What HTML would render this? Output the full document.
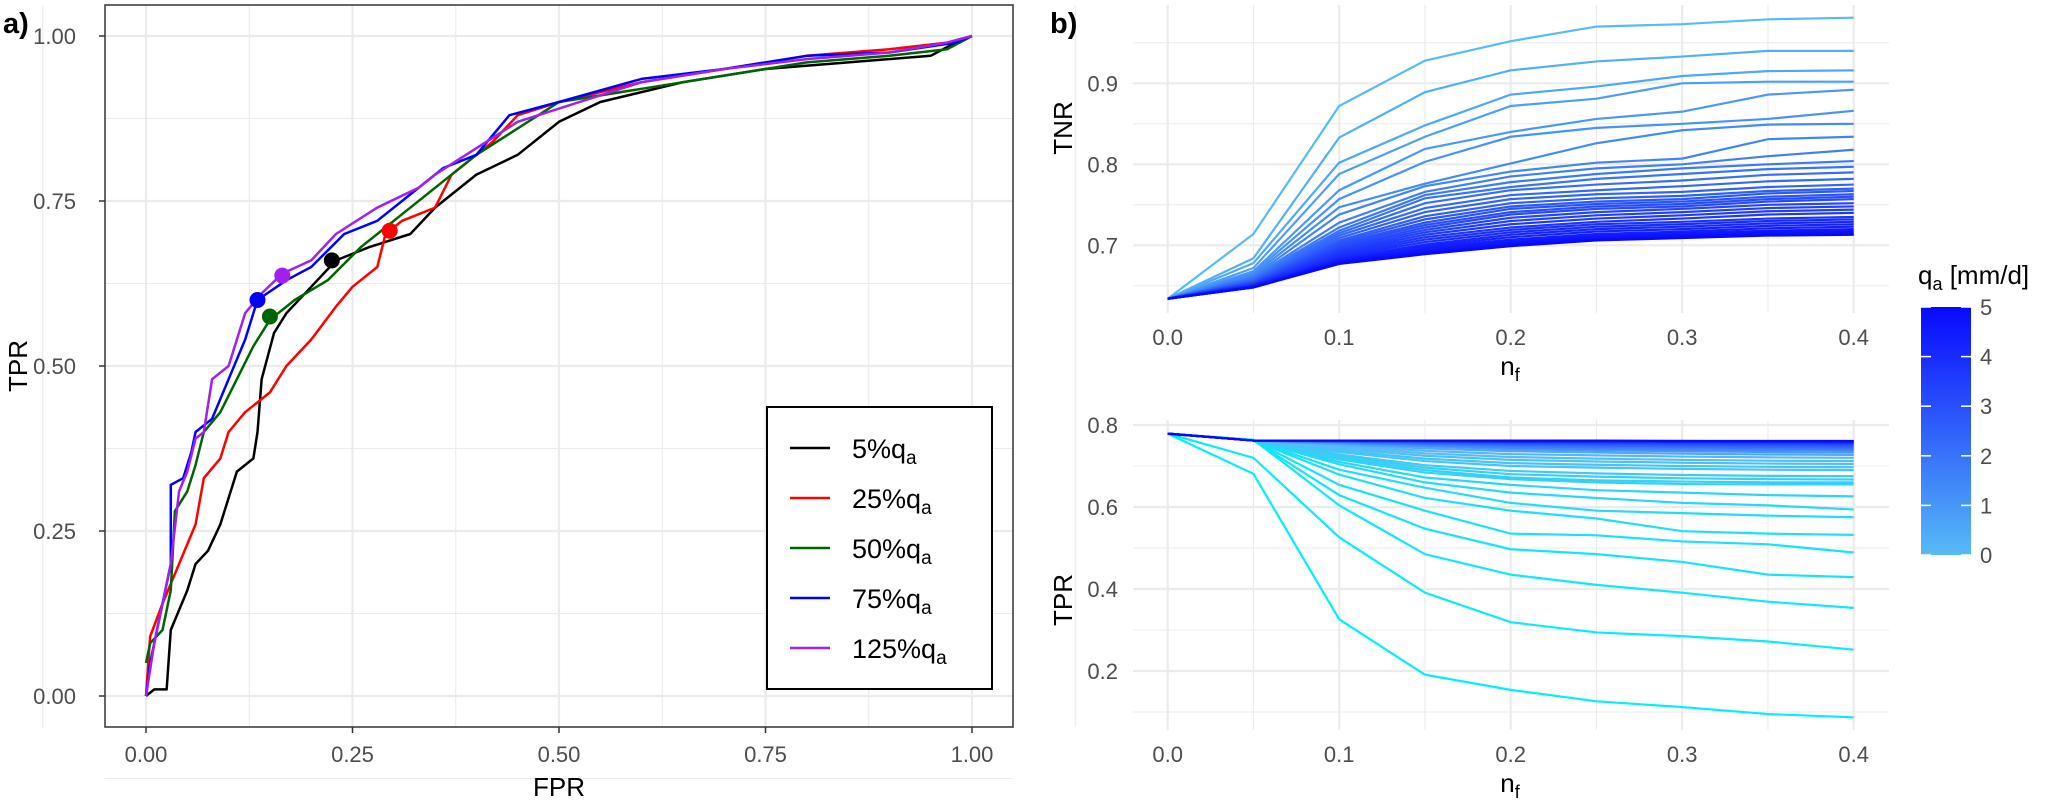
<!DOCTYPE html>
<html><head><meta charset="utf-8"><style>
body{margin:0;background:#fff;}
svg{display:block;font-family:"Liberation Sans",Arial,sans-serif;}
</style></head><body>
<svg id="chart" width="2056" height="801" viewBox="0 0 2056 801" xmlns="http://www.w3.org/2000/svg">
<g id="pa"></g>
<g id="pb1"></g>
<g id="pb2"></g>
<g id="lg"></g>
</svg>
<script>
// ---- Panel a data (ROC) ----
const rocNames = ["5%","25%","50%","75%","125%"];
const rocColors = ["#000000","#ff0000","#006400","#0000ff","#a020f0"];
const rocBlackFPR = [0,0.01,0.025,0.03,0.04,0.05,0.06,0.075,0.09,0.1,0.11,0.13,0.135,0.14,0.155,0.17,0.2,0.23,0.27,0.32,0.35,0.4,0.45,0.5,0.55,0.65,0.75,0.85,0.95,0.98,1];
const rocBlackTPR = [0,0.01,0.01,0.1,0.13,0.16,0.2,0.22,0.26,0.3,0.34,0.36,0.4,0.48,0.55,0.58,0.62,0.66,0.68,0.7,0.74,0.79,0.82,0.87,0.9,0.93,0.95,0.96,0.97,0.99,1];
const rocRedFPR = [0,0.005,0.02,0.04,0.06,0.07,0.09,0.1,0.12,0.15,0.17,0.2,0.23,0.25,0.28,0.29,0.31,0.35,0.37,0.42,0.45,0.5,0.6,0.7,0.8,0.9,0.97,1];
const rocRedTPR = [0,0.09,0.14,0.2,0.26,0.33,0.36,0.4,0.43,0.46,0.5,0.54,0.59,0.62,0.65,0.7,0.72,0.74,0.79,0.84,0.88,0.9,0.93,0.95,0.97,0.98,0.99,1];
const rocGreenFPR = [0,0.005,0.02,0.03,0.035,0.05,0.06,0.07,0.09,0.11,0.13,0.15,0.18,0.22,0.26,0.3,0.35,0.4,0.45,0.5,0.6,0.7,0.8,0.9,0.97,1];
const rocGreenTPR = [0.05,0.08,0.1,0.16,0.28,0.31,0.35,0.4,0.43,0.48,0.53,0.57,0.6,0.63,0.68,0.72,0.77,0.82,0.86,0.9,0.92,0.94,0.96,0.97,0.98,1];
const rocBlueFPR = [0,0.005,0.02,0.03,0.03,0.045,0.055,0.06,0.08,0.1,0.12,0.135,0.17,0.2,0.24,0.28,0.32,0.36,0.4,0.44,0.5,0.6,0.7,0.8,0.9,0.98,1];
const rocBlueTPR = [0,0.05,0.14,0.2,0.32,0.33,0.37,0.4,0.42,0.48,0.54,0.6,0.63,0.65,0.7,0.72,0.76,0.8,0.82,0.88,0.9,0.935,0.95,0.97,0.975,0.99,1];
const rocPurpleFPR = [0,0.01,0.02,0.03,0.04,0.05,0.06,0.07,0.08,0.1,0.11,0.12,0.14,0.165,0.2,0.23,0.28,0.33,0.35,0.4,0.45,0.5,0.6,0.7,0.8,0.9,0.97,1];
const rocPurpleTPR = [0,0.08,0.14,0.2,0.31,0.34,0.39,0.4,0.48,0.5,0.54,0.58,0.61,0.64,0.66,0.7,0.74,0.77,0.79,0.83,0.87,0.89,0.93,0.95,0.965,0.975,0.99,1];
const rocDotFPR = [0.225,0.295,0.15,0.135,0.165];
const rocDotTPR = [0.66,0.705,0.575,0.6,0.637];
const rocTicks = ["0.00","0.25","0.50","0.75","1.00"];

// ---- Panel b data ----
const nf = [0,0.05,0.1,0.15,0.2,0.25,0.3,0.35,0.4];
const nfTicks = ["0.0","0.1","0.2","0.3","0.4"];
const tnrTicks = ["0.7","0.8","0.9"];
const tprTicks = ["0.2","0.4","0.6","0.8"];
const tnrLines = [
 [0.634,0.714,0.872,0.928,0.952,0.970,0.973,0.979,0.981],
 [0.634,0.684,0.833,0.889,0.916,0.927,0.933,0.940,0.940],
 [0.634,0.678,0.802,0.848,0.886,0.896,0.909,0.915,0.916],
 [0.634,0.672,0.788,0.834,0.872,0.881,0.900,0.902,0.902],
 [0.634,0.668,0.768,0.819,0.840,0.856,0.865,0.886,0.892],
 [0.634,0.666,0.757,0.803,0.834,0.845,0.850,0.856,0.866],
 [0.634,0.664,0.747,0.776,0.801,0.826,0.842,0.849,0.850],
 [0.634,0.662,0.738,0.773,0.791,0.802,0.807,0.831,0.834],
 [0.634,0.661,0.728,0.766,0.785,0.795,0.800,0.810,0.818],
 [0.634,0.660,0.722,0.762,0.778,0.788,0.795,0.800,0.804],
 [0.634,0.659,0.718,0.758,0.772,0.782,0.788,0.794,0.797],
 [0.634,0.658,0.715,0.752,0.768,0.775,0.780,0.787,0.790],
 [0.634,0.657,0.712,0.746,0.762,0.768,0.773,0.779,0.782],
 [0.634,0.656,0.709,0.741,0.757,0.763,0.766,0.772,0.775],
 [0.634,0.655,0.706,0.736,0.752,0.758,0.761,0.767,0.770],
 [0.634,0.655,0.704,0.732,0.748,0.754,0.757,0.764,0.767],
 [0.634,0.654,0.702,0.728,0.745,0.751,0.754,0.760,0.763],
 [0.634,0.654,0.700,0.725,0.741,0.748,0.751,0.757,0.760],
 [0.634,0.653,0.698,0.722,0.738,0.745,0.748,0.754,0.757],
 [0.634,0.653,0.696,0.719,0.734,0.741,0.745,0.750,0.752],
 [0.634,0.652,0.694,0.716,0.730,0.737,0.741,0.746,0.748],
 [0.634,0.652,0.692,0.713,0.726,0.733,0.737,0.742,0.744],
 [0.634,0.651,0.690,0.710,0.722,0.729,0.733,0.738,0.740],
 [0.634,0.651,0.688,0.707,0.719,0.726,0.729,0.733,0.735],
 [0.634,0.650,0.686,0.704,0.716,0.723,0.726,0.730,0.732],
 [0.634,0.650,0.684,0.701,0.713,0.720,0.723,0.727,0.729],
 [0.634,0.650,0.683,0.699,0.710,0.717,0.720,0.724,0.726],
 [0.634,0.649,0.682,0.697,0.707,0.714,0.717,0.721,0.723],
 [0.634,0.649,0.681,0.695,0.705,0.712,0.715,0.718,0.720],
 [0.634,0.649,0.680,0.693,0.703,0.710,0.713,0.716,0.718],
 [0.634,0.648,0.679,0.691,0.701,0.708,0.711,0.714,0.716],
 [0.634,0.648,0.678,0.690,0.700,0.707,0.710,0.713,0.714],
 [0.634,0.648,0.677,0.689,0.699,0.706,0.709,0.712,0.713]
];
const tprLines = [
 [0.779,0.681,0.326,0.191,0.154,0.126,0.112,0.095,0.087],
 [0.779,0.720,0.526,0.391,0.319,0.294,0.285,0.272,0.252],
 [0.779,0.764,0.604,0.485,0.435,0.410,0.391,0.369,0.354],
 [0.779,0.762,0.629,0.547,0.497,0.485,0.466,0.435,0.429],
 [0.779,0.762,0.654,0.591,0.535,0.531,0.516,0.509,0.489],
 [0.779,0.762,0.679,0.622,0.591,0.572,0.541,0.535,0.532],
 [0.779,0.762,0.691,0.647,0.610,0.591,0.585,0.579,0.575],
 [0.779,0.762,0.704,0.660,0.635,0.622,0.610,0.604,0.594],
 [0.779,0.762,0.710,0.672,0.654,0.641,0.635,0.629,0.626],
 [0.779,0.762,0.716,0.684,0.668,0.660,0.656,0.655,0.655],
 [0.779,0.762,0.720,0.690,0.672,0.665,0.662,0.660,0.660],
 [0.779,0.762,0.724,0.696,0.680,0.674,0.670,0.668,0.667],
 [0.779,0.762,0.728,0.702,0.688,0.682,0.678,0.676,0.675],
 [0.779,0.762,0.734,0.712,0.700,0.696,0.693,0.691,0.690],
 [0.779,0.762,0.738,0.718,0.707,0.703,0.700,0.698,0.697],
 [0.779,0.762,0.742,0.725,0.715,0.711,0.708,0.706,0.705],
 [0.779,0.762,0.746,0.731,0.722,0.718,0.715,0.713,0.712],
 [0.779,0.762,0.750,0.737,0.729,0.726,0.723,0.721,0.720],
 [0.779,0.762,0.753,0.743,0.736,0.733,0.730,0.728,0.727],
 [0.779,0.762,0.756,0.748,0.741,0.738,0.736,0.734,0.733],
 [0.779,0.762,0.758,0.751,0.745,0.742,0.740,0.739,0.738],
 [0.779,0.762,0.759,0.754,0.749,0.746,0.745,0.743,0.742],
 [0.779,0.762,0.760,0.756,0.752,0.750,0.748,0.747,0.746],
 [0.779,0.762,0.761,0.758,0.755,0.753,0.752,0.751,0.750],
 [0.779,0.762,0.761,0.760,0.757,0.756,0.755,0.754,0.753],
 [0.779,0.762,0.762,0.761,0.759,0.758,0.757,0.757,0.756],
 [0.779,0.762,0.762,0.761,0.760,0.760,0.759,0.759,0.758],
 [0.779,0.762,0.762,0.762,0.761,0.761,0.761,0.760,0.760],
 [0.779,0.762,0.762,0.762,0.762,0.762,0.761,0.761,0.761]
];
const cbTicks = ["0","1","2","3","4","5"];

const NS="http://www.w3.org/2000/svg";
function mk(parent,tag,attrs,text){const e=document.createElementNS(NS,tag);for(const k in attrs)e.setAttribute(k,attrs[k]);if(text!==undefined)e.textContent=text;parent.appendChild(e);return e;}
function lerp(a,b,t){return a.map((v,i)=>Math.round(v+(b[i]-v)*t));}
function rgb(c){return "rgb("+c.join(",")+")";}

// ---- Panel a ----
const pa=document.getElementById('pa');
const ax=v=>146+v*826, ay=v=>696-v*660;
for(let k=-1;k<=9;k++){
  const v=k*0.125;
  const major=k%2==0;
  const g=mk(pa,'line',{x1:ax(v),x2:ax(v),y1:5,y2:727,stroke:'#ebebeb','stroke-width':major?2.2:1.1});
  
  const h=mk(pa,'line',{x1:105,x2:1013,y1:ay(v),y2:ay(v),stroke:'#ebebeb','stroke-width':major?2.2:1.1});
  
}
const rocF=[rocBlackFPR,rocRedFPR,rocGreenFPR,rocBlueFPR,rocPurpleFPR];
const rocT=[rocBlackTPR,rocRedTPR,rocGreenTPR,rocBlueTPR,rocPurpleTPR];
rocF.forEach((f,i)=>{
  const pts=f.map((v,j)=>ax(v)+","+ay(rocT[i][j])).join(" ");
  const p=mk(pa,'polyline',{points:pts,fill:'none',stroke:rocColors[i],'stroke-width':2.5,'stroke-linejoin':'round'});
  
  
});
rocDotFPR.forEach((f,i)=>{
  const c=mk(pa,'circle',{cx:ax(f),cy:ay(rocDotTPR[i]),r:8,fill:rocColors[i]});
  
  
});
const fr=mk(pa,'rect',{x:105,y:5,width:908,height:722,fill:'none',stroke:'#333','stroke-width':1.5});

rocTicks.forEach((t,i)=>{
  const v=i*0.25;
  const a=mk(pa,'text',{x:ax(v),y:762,'font-size':22,fill:'#4d4d4d','text-anchor':'middle'},t);
  
  const b=mk(pa,'text',{x:76,y:ay(v)+8,'font-size':22,fill:'#4d4d4d','text-anchor':'end'},t);
  
  mk(pa,'line',{x1:ax(v),x2:ax(v),y1:727,y2:733,stroke:'#333','stroke-width':1.5});
  mk(pa,'line',{x1:99,x2:105,y1:ay(v),y2:ay(v),stroke:'#333','stroke-width':1.5});
});
let t1=mk(pa,'text',{x:559,y:796,'font-size':26,'text-anchor':'middle'},'FPR');

let t2=mk(pa,'text',{x:0,y:0,'font-size':26,'text-anchor':'middle',transform:'translate(27,366) rotate(-90)'},'TPR');

let t3=mk(pa,'text',{x:3,y:33,'font-size':29,'font-weight':'bold'},'a)');

const lb=mk(pa,'rect',{x:767,y:407,width:225,height:282,fill:'#fff',stroke:'#000','stroke-width':2});

rocNames.forEach((n,i)=>{
  const y=448+i*50;
  const g=mk(pa,'g',{});
  
  mk(g,'line',{x1:790,x2:830,y1:y,y2:y,stroke:rocColors[i],'stroke-width':2.5});
  const tx=mk(g,'text',{x:852,y:y+10,'font-size':27},n+'q');
  mk(tx,'tspan',{'font-size':19,dy:6},'a');
});

// ---- Panel b ----
const bx=v=>1167.7+v*1715;
function panelB(gid,yfun,gridVals,majorVals,top,bottom,ticks,tickVals,lines,colfun,title,titleY){
  const g=document.getElementById(gid);
  gridVals.forEach(v=>{
    const major=majorVals.some(m=>Math.abs(m-v)<1e-6);
    const l=mk(g,'line',{x1:1133,x2:1889,y1:yfun(v),y2:yfun(v),stroke:'#ebebeb','stroke-width':major?2.2:1.1});
    
  });
  for(let k=0;k<=8;k++){
    const v=k*0.05;
    const l=mk(g,'line',{x1:bx(v),x2:bx(v),y1:top,y2:bottom,stroke:'#ebebeb','stroke-width':k%2==0?2.2:1.1});
    
  }
  lines.forEach((vals,i)=>{
    const pts=vals.map((v,j)=>bx(nf[j])+","+yfun(v)).join(" ");
    const p=mk(g,'polyline',{points:pts,fill:'none',stroke:colfun(i/(lines.length-1)),'stroke-width':2.2});
    
    
  });
  nfTicks.forEach((t,i)=>{
    const a=mk(g,'text',{x:bx(i*0.1),y:bottom+32,'font-size':22,fill:'#4d4d4d','text-anchor':'middle'},t);
    
  });
  ticks.forEach((t,i)=>{
    const a=mk(g,'text',{x:1118,y:yfun(tickVals[i])+8,'font-size':22,fill:'#4d4d4d','text-anchor':'end'},t);
    
  });
  const xt=mk(g,'text',{x:1510,y:bottom+62,'font-size':26,'text-anchor':'middle'},'n');
  mk(xt,'tspan',{'font-size':18,dy:6},'f');
  
  const yt=mk(g,'text',{x:0,y:0,'font-size':26,'text-anchor':'middle',transform:'translate(1072,'+titleY+') rotate(-90)'},title);
  
}
const y1=v=>245.3-(v-0.7)*810;
const y2=v=>425+(0.8-v)*410;
const light=[88,186,246], blue=[8,8,255], cyan=[0,240,250];
panelB('pb1',y1,[0.65,0.7,0.75,0.8,0.85,0.9,0.95],[0.7,0.8,0.9],5,313,tnrTicks,[0.7,0.8,0.9],tnrLines,t=>rgb(lerp(light,blue,Math.pow(t,0.8))),'TNR',128);
panelB('pb2',y2,[0.1,0.2,0.3,0.4,0.5,0.6,0.7,0.8],[0.2,0.4,0.6,0.8],420,730,tprTicks,[0.2,0.4,0.6,0.8],tprLines,
  t=>t<0.6?rgb(lerp(cyan,light,t/0.6)):rgb(lerp(light,blue,(t-0.6)/0.4)),'TPR',600);
let tb=mk(document.getElementById('pb1'),'text',{x:1050,y:33,'font-size':29,'font-weight':'bold'},'b)');


// ---- Colorbar ----
const lg=document.getElementById('lg');
const defs=mk(lg,'defs',{});
const gr=mk(defs,'linearGradient',{id:'cbg',x1:0,y1:1,x2:0,y2:0});
mk(gr,'stop',{offset:'0','stop-color':rgb(light)});
mk(gr,'stop',{offset:'1','stop-color':rgb(blue)});
const cb=mk(lg,'rect',{x:1921,y:307,width:50,height:248,fill:'url(#cbg)'});

cbTicks.forEach((t,i)=>{
  const y=555-i*49.6;
  mk(lg,'line',{x1:1921,x2:1931,y1:y,y2:y,stroke:'#fff','stroke-width':1.5});
  mk(lg,'line',{x1:1961,x2:1971,y1:y,y2:y,stroke:'#fff','stroke-width':1.5});
  const a=mk(lg,'text',{x:1980,y:y+8,'font-size':22,fill:'#4d4d4d'},t);
  
});
const ct=mk(lg,'text',{x:1918,y:284,'font-size':26},'q');
mk(ct,'tspan',{'font-size':18,dy:6},'a');
mk(ct,'tspan',{dy:-6},' [mm/d]');

</script>
</body></html>
